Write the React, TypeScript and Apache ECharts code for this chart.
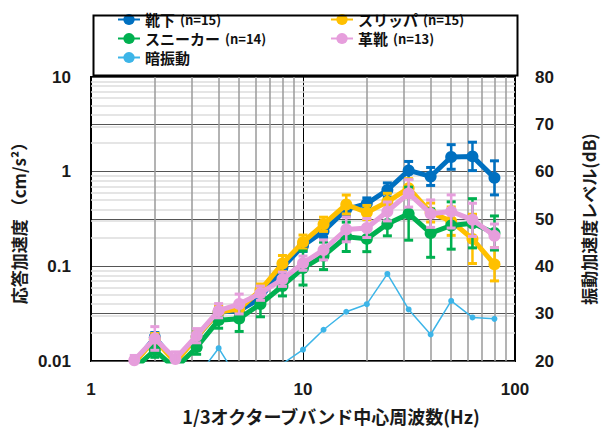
import React, { useEffect, useRef } from "react";
import * as echarts from "echarts";

const freqs = [1.6, 2, 2.5, 3.15, 4, 5, 6.3, 8, 10, 12.5, 16, 20, 25, 31.5, 40, 50, 63, 80];

const socks = [0.0095, 0.0178, 0.0098, 0.018, 0.033, 0.034, 0.046, 0.097, 0.165, 0.235, 0.40, 0.46, 0.64, 1.03, 0.89, 1.43, 1.45, 0.86];
const slippers = [0.0095, 0.017, 0.0096, 0.018, 0.033, 0.0355, 0.056, 0.107, 0.18, 0.278, 0.45, 0.37, 0.48, 0.67, 0.37, 0.30, 0.195, 0.105];
const sneakers = [0.0083, 0.013, 0.0083, 0.014, 0.027, 0.028, 0.040, 0.062, 0.096, 0.129, 0.205, 0.195, 0.28, 0.36, 0.224, 0.27, 0.285, 0.225];
const leather = [0.0102, 0.0173, 0.0105, 0.0185, 0.034, 0.040, 0.052, 0.073, 0.108, 0.149, 0.245, 0.254, 0.38, 0.59, 0.36, 0.38, 0.31, 0.21];
const background = [15, 16, 15, 16.5, 22.7, 15.8, 16, 19.4, 22.4, 26.6, 30.4, 32.0, 38.4, 30.9, 25.6, 32.7, 29.2, 28.9];

// error bar half widths (dB)
const socksErr = [1, 1, 1, 1, 1, 1, 1, 1.2, 1.2, 1.3, 1.4, 1.2, 1.5, 1.9, 1.9, 2.6, 3, 3.6];
const slippersErr = [1, 1.2, 1, 1, 1.2, 1.3, 1.3, 1.7, 1.5, 1.5, 2, 1.5, 1.8, 2, 2, 3, 5.2, 3.5];
const sneakersErr = [1.5, 1.5, 1.5, 1.5, 1.7, 2.7, 2.7, 2.1, 3.6, 2.9, 3.1, 2.7, 2.5, 5.6, 5.1, 5, 5.2, 3.6];
const leatherErr = [1, 2.5, 1.5, 1.5, 1.5, 2.1, 1.5, 1.5, 1.5, 2.1, 2.6, 2, 2, 2.9, 2.9, 3.5, 3.5, 2.5];

const minorX = [2, 3, 4, 5, 6, 7, 8, 9, 20, 30, 40, 50, 60, 70, 80, 90];
const minorY = [0.02, 0.03, 0.04, 0.05, 0.06, 0.07, 0.08, 0.09, 0.2, 0.3, 0.4, 0.5, 0.6, 0.7, 0.8, 0.9, 2, 3, 4, 5, 6, 7, 8, 9];

const names = ["靴下", "スリッパ", "スニーカー", "革靴"];
const counts = [15, 15, 14, 13];
const colors = ["#0070C0", "#FFC000", "#00B050", "#E69EDC"];
const bgName = "暗振動";
const bgColor = "#3DB5E8";

const CJK = "'Noto Sans CJK JP', 'Noto Sans', sans-serif";
const NUM = "'Liberation Sans', Arial, sans-serif";

export default function App() {
  const ref = useRef<HTMLDivElement>(null);
  useEffect(() => {
    if (!ref.current) return;
    const chart = echarts.init(ref.current, undefined, { renderer: "svg" });
    const values = [socks, slippers, sneakers, leather];
    const errs = [socksErr, slippersErr, sneakersErr, leatherErr];

    const lineSeries: any[] = [];
    values.forEach((vals, k) => {
      lineSeries.push({
        name: names[k],
        type: "line",
        yAxisIndex: 0,
        data: freqs.map((f, i) => [f, vals[i]]),
        symbol: "circle",
        symbolSize: 12,
        showSymbol: true,
        lineStyle: { color: colors[k], width: 5 },
        itemStyle: { color: colors[k] },
        z: 5 + k * 2,
        clip: true,
      });
      const col = colors[k];
      lineSeries.push({
        name: names[k] + "-err",
        type: "custom",
        yAxisIndex: 0,
        clip: true,
        z: 6 + k * 2,
        data: freqs.map((f, i) => [
          f,
          vals[i] / Math.pow(10, errs[k][i] / 20),
          vals[i] * Math.pow(10, errs[k][i] / 20),
        ]),
        encode: { x: 0, y: [1, 2] },
        renderItem: (params: any, api: any) => {
          const x = api.value(0);
          const p1 = api.coord([x, api.value(2)]);
          const p2 = api.coord([x, api.value(1)]);
          const w = 4.5;
          return {
            type: "group",
            children: [
              { type: "line", shape: { x1: p1[0], y1: p1[1], x2: p2[0], y2: p2[1] }, style: { stroke: col, lineWidth: 2.5 } },
              { type: "line", shape: { x1: p1[0] - w, y1: p1[1], x2: p1[0] + w, y2: p1[1] }, style: { stroke: col, lineWidth: 3 } },
              { type: "line", shape: { x1: p2[0] - w, y1: p2[1], x2: p2[0] + w, y2: p2[1] }, style: { stroke: col, lineWidth: 3 } },
            ],
          };
        },
      });
    });

    const legendFormatter = (name: string) => {
      const k = names.indexOf(name);
      if (k < 0) return `{a|${name}}`;
      return `{a|${name}}{b|(n=${counts[k]})}`;
    };
    const legendText = {
      color: "#111",
      rich: {
        a: { fontSize: 15, fontWeight: "bold", fontFamily: CJK, color: "#111", lineHeight: 18 },
        b: { fontSize: 13, fontWeight: "bold", fontFamily: CJK, color: "#111", lineHeight: 18, padding: [0, 0, 0, 5] },
      },
    };

    const axisLabel = { fontSize: 17, fontWeight: "bold", fontFamily: NUM, color: "#1a1a1a", margin: 20 };

    const option: any = {
      animation: false,
      grid: { left: 91, right: 93, top: 77, bottom: 64, show: true, borderColor: "#000", borderWidth: 2, backgroundColor: "transparent" },
      legend: [
        {
          left: 117, top: 12, orient: "vertical", itemGap: 4, itemWidth: 22, itemHeight: 14, padding: 0,
          selectedMode: false, data: [names[0], names[2], bgName], formatter: legendFormatter, textStyle: legendText,
        },
        {
          left: 330, top: 12, orient: "vertical", itemGap: 4, itemWidth: 22, itemHeight: 14, padding: 0,
          selectedMode: false, data: [names[1], names[3]], formatter: legendFormatter, textStyle: legendText,
        },
      ],
      graphic: [
        { type: "rect", left: 91, top: 13, shape: { width: 424, height: 60 }, style: { fill: "none", stroke: "#000", lineWidth: 2 }, z: 10 },
      ],
      xAxis: {
        type: "log", logBase: 10, min: 1, max: 100, z: 3,
        axisLine: { show: false }, axisTick: { show: false },
        splitLine: { show: true, lineStyle: { color: "#000", width: 1 } },
        axisLabel,
        name: "1/3オクターブバンド中心周波数(Hz)",
        nameLocation: "middle", nameGap: 46,
        nameTextStyle: { fontSize: 18, fontWeight: "bold", fontFamily: CJK, color: "#1a1a1a", padding: [0, 0, 0, 56] },
      },
      yAxis: [
        {
          type: "log", logBase: 10, min: 0.01, max: 10, z: 3,
          axisLine: { show: false }, axisTick: { show: false },
          splitLine: { show: true, lineStyle: { color: "#000", width: 1 } },
          axisLabel,
          name: "応答加速度 （cm/s²）",
          nameLocation: "middle", nameGap: 58,
          nameTextStyle: { fontSize: 17, fontWeight: "bold", fontFamily: CJK, color: "#1a1a1a" },
        },
        {
          type: "value", min: 20, max: 80, interval: 10, position: "right", z: 3,
          axisLine: { show: false }, axisTick: { show: false },
          splitLine: { show: true, lineStyle: { color: "#555", width: 1.2 } },
          axisLabel,
          name: "振動加速度レベル(dB)",
          nameLocation: "middle", nameGap: 65,
          nameTextStyle: { fontSize: 17, fontWeight: "bold", fontFamily: CJK, color: "#1a1a1a" },
        },
      ],
      series: [
        {
          name: "minorY", type: "line", yAxisIndex: 0, data: [], z: 1, silent: true,
          markLine: {
            silent: true, symbol: "none", label: { show: false }, animation: false,
            lineStyle: { color: "#dcdcdc", width: 1.5, type: "solid" },
            data: minorY.map((v) => ({ yAxis: v })),
          },
        },
        {
          name: "minorX", type: "line", yAxisIndex: 0, data: [], z: 1, silent: true,
          markLine: {
            silent: true, symbol: "none", label: { show: false }, animation: false,
            lineStyle: { color: "#9a9a9a", width: 1.5, type: "solid" },
            data: minorX.map((v) => ({ xAxis: v })),
          },
        },
        ...lineSeries,
        {
          name: bgName,
          type: "line",
          yAxisIndex: 1,
          data: freqs.map((f, i) => [f, background[i]]),
          symbol: "circle",
          symbolSize: 6,
          lineStyle: { color: bgColor, width: 1.5 },
          itemStyle: { color: bgColor },
          z: 14,
          clip: true,
        },
      ],
    };
    chart.setOption(option);
    return () => chart.dispose();
  }, []);
  return <div ref={ref} style={{ position: "absolute", left: 0, top: 0, width: 608, height: 430 }} />;
}
